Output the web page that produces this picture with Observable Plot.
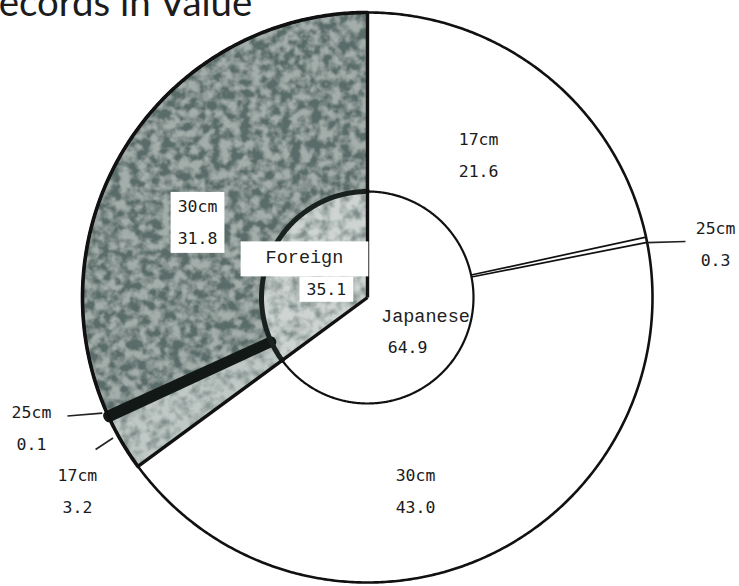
<!DOCTYPE html>
<html><head><meta charset="utf-8">
<script src="https://cdn.jsdelivr.net/npm/d3@7"></script>
<script src="https://cdn.jsdelivr.net/npm/@observablehq/plot@0.6"></script>
<style>
html,body{margin:0;padding:0;background:#fff;}
#wrap{position:relative;width:739px;height:586px;overflow:hidden;background:#fff;}
#wrap > svg{display:block;}
#titleSvg{position:absolute;left:0;top:0;overflow:hidden;}
</style></head>
<body>
<svg width="0" height="0" style="position:absolute;left:0;top:0" aria-hidden="true">
<defs>
<filter id="fDark" x="0" y="0" width="1" height="1">
 <feTurbulence type="fractalNoise" baseFrequency="0.1" numOctaves="3" seed="11" result="n"/>
 <feColorMatrix in="n" type="matrix" values="0 0 0 0 0.1  0 0 0 0 0.15  0 0 0 0 0.14  3.0 0 0 0 -0.95" result="s"/>
 <feComposite in="s" in2="SourceGraphic" operator="over"/>
</filter>
<filter id="fLight" x="0" y="0" width="1" height="1">
 <feTurbulence type="fractalNoise" baseFrequency="0.1" numOctaves="3" seed="5" result="n"/>
 <feColorMatrix in="n" type="matrix" values="0 0 0 0 0.2  0 0 0 0 0.26  0 0 0 0 0.25  2.3 0 0 0 -0.85" result="s"/>
 <feComposite in="s" in2="SourceGraphic" operator="over"/>
</filter>
<pattern id="pDark" patternUnits="userSpaceOnUse" x="0" y="0" width="739" height="586">
 <rect width="739" height="586" fill="#a3adaa" filter="url(#fDark)"/>
</pattern>
<pattern id="pLight" patternUnits="userSpaceOnUse" x="0" y="0" width="739" height="586">
 <rect width="739" height="586" fill="#c0c9c6" filter="url(#fLight)"/>
</pattern>
<pattern id="pInner" patternUnits="userSpaceOnUse" x="0" y="0" width="739" height="586">
 <rect width="739" height="586" fill="#cdd4d1" filter="url(#fLight)"/>
</pattern>
</defs>
</svg>
<div id="wrap"></div>
<script>
// ---------- data ----------
const groups = ["Japanese", "Foreign"];
const groupShares = [64.9, 35.1];
const sizes = ["17cm", "25cm", "30cm"];
const japaneseShares = [21.6, 0.3, 43.0];
const foreignShares = [3.2, 0.1, 31.8];
const titleText = "Records in Value";

// ---------- layout / styles ----------
const W = 739, H = 586;
const CX = 367, CY = 297, RPX = 285;           // pie centre and outer radius (px)
const R_IN = 106 / RPX;                        // inner circle radius (unit)
const xDomain = [(0 - CX) / RPX, (W - CX) / RPX];
const yDomain = [(CY - H) / RPX, CY / RPX];

const segStyle = {
  "Japanese-17cm": {fill: "white"},
  "Japanese-25cm": {fill: "white"},
  "Japanese-30cm": {fill: "white"},
  "Foreign-17cm": {fill: "url(#pLight)"},
  "Foreign-25cm": {fill: "#121816", stroke: "#121816", strokeWidth: 10},
  "Foreign-30cm": {fill: "url(#pDark)"}
};
const innerStyle = {Japanese: {fill: "white"}, Foreign: {fill: "url(#pInner)"}};

// label placement: offset from slice mid-angle (deg) and radius (unit)
const outerLabelLayout = {
  "Japanese-17cm": {dA: -1.7, r: 0.645},
  "Japanese-25cm": {dA: 2.3, r: 1.238, leader: [0.6, 1.0, 1.7, 1.133]},
  "Japanese-30cm": {dA: 9.5, r: 0.684},
  "Foreign-17cm": {dA: -2.5, r: 1.215, leader: [1.7, 1.02, 1.4, 1.093]},
  "Foreign-25cm": {dA: 4.0, r: 1.26, leader: [1.1, 1.015, 3.1, 1.132]},
  "Foreign-30cm": {dA: -7.6, r: 0.659}
};
const innerLabelLayout = {
  "Japanese-name": {dA: -8.7, r: 0.214},
  "Japanese-value": {dA: 24.5, r: 0.225},
  "Foreign-name": {dA: 5.6, r: 0.262},
  "Foreign-value": {dA: -15.8, r: 0.147}
};
// white boxes behind some labels: [left, top, right, bottom] padding
const boxPad = {"30cm31.8": [7, 5, 7, 5], "Foreign": [25, 7, 25, 7], "35.1": [7, 3, 7, 3]};

// ---------- geometry from data ----------
const deg = p => p * 3.6;
const polar = (a, r) => ({x: r * Math.sin(a * Math.PI / 180), y: r * Math.cos(a * Math.PI / 180)});
function arcPts(a0, a1, r) {
  const n = Math.max(2, Math.ceil(Math.abs(a1 - a0) * 2));
  return d3.range(n + 1).map(i => polar(a0 + (a1 - a0) * i / n, r));
}
const seriesByGroup = {Japanese: japaneseShares, Foreign: foreignShares};
let cum = 0;
const outerSegs = [];
groups.forEach(g => seriesByGroup[g].forEach((v, i) => {
  outerSegs.push({key: g + "-" + sizes[i], group: g, size: sizes[i], value: v, a0: deg(cum), a1: deg(cum + v)});
  cum += v;
}));
cum = 0;
const innerSegs = groups.map((g, i) => {
  const s = {group: g, value: groupShares[i], a0: deg(cum), a1: deg(cum + groupShares[i])};
  cum += groupShares[i];
  return s;
});

const sectorMarks = [];
innerSegs.forEach(s => {
  const pts = [polar(0, 0), ...arcPts(s.a0, s.a1, R_IN)];
  sectorMarks.push(Plot.line(pts, {x: "x", y: "y", curve: "linear-closed", fill: innerStyle[s.group].fill, stroke: "none"}));
});
[...outerSegs].sort((a, b) => (segStyle[a.key].stroke ? 1 : 0) - (segStyle[b.key].stroke ? 1 : 0)).forEach(s => {
  const st = segStyle[s.key];
  const pts = [...arcPts(s.a0, s.a1, 1), ...arcPts(s.a1, s.a0, R_IN)];
  sectorMarks.push(Plot.line(pts, {x: "x", y: "y", curve: "linear-closed", fill: st.fill,
    stroke: st.stroke || "none", strokeWidth: st.strokeWidth || 0, strokeLinejoin: "round"}));
});

// boundary lines
const mainBoundaries = [innerSegs[0].a0, innerSegs[0].a1].map(a => ({a, r0: 0, r1: 1}));
const j25 = outerSegs.find(s => s.key === "Japanese-25cm");
const thinBoundaries = [j25.a0, j25.a1].map(a => ({a, r0: R_IN, r1: 1}));
const linkOpts = (w) => ({
  x1: d => polar(d.a, d.r0).x, y1: d => polar(d.a, d.r0).y,
  x2: d => polar(d.a, d.r1).x, y2: d => polar(d.a, d.r1).y,
  stroke: "#111", strokeWidth: w
});

// leaders
const leaders = outerSegs.filter(s => outerLabelLayout[s.key].leader).map(s => {
  const m = (s.a0 + s.a1) / 2, L = outerLabelLayout[s.key].leader;
  const p1 = polar(m + L[0], L[1]), p2 = polar(m + L[2], L[3]);
  return {x1: p1.x, y1: p1.y, x2: p2.x, y2: p2.y};
});

// labels
const outerLabels = outerSegs.map(s => {
  const L = outerLabelLayout[s.key], p = polar((s.a0 + s.a1) / 2 + L.dA, L.r);
  return {x: p.x, y: p.y, text: s.size + "\n" + s.value.toFixed(1)};
});
const nameLabels = [], valueLabels = [];
innerSegs.forEach(s => {
  const m = (s.a0 + s.a1) / 2;
  const ln = innerLabelLayout[s.group + "-name"], lv = innerLabelLayout[s.group + "-value"];
  const pn = polar(m + ln.dA, ln.r), pv = polar(m + lv.dA, lv.r);
  nameLabels.push({x: pn.x, y: pn.y, text: s.group});
  valueLabels.push({x: pv.x, y: pv.y, text: s.value.toFixed(1)});
});

const foreign = innerSegs[1];
const plot = Plot.plot({
  width: W, height: H, margin: 0,
  x: {domain: xDomain, axis: null},
  y: {domain: yDomain, axis: null},
  style: {background: "white"},
  marks: [
    ...sectorMarks,
    Plot.line(arcPts(0, 360, 1), {x: "x", y: "y", curve: "linear-closed", stroke: "#111", strokeWidth: 2.6, fill: "none"}),
    Plot.line(arcPts(foreign.a0, foreign.a1, 1), {x: "x", y: "y", stroke: "#111", strokeWidth: 3.6}),
    Plot.line(arcPts(innerSegs[0].a0, innerSegs[0].a1, R_IN), {x: "x", y: "y", stroke: "#111", strokeWidth: 2.2}),
    Plot.line(arcPts(foreign.a0, foreign.a1, R_IN), {x: "x", y: "y", stroke: "#1a2220", strokeWidth: 5}),
    Plot.link(mainBoundaries, linkOpts(3.4)),
    Plot.link(thinBoundaries, linkOpts(1.7)),
    Plot.link(leaders, {x1: "x1", y1: "y1", x2: "x2", y2: "y2", stroke: "#222", strokeWidth: 1.6}),
    Plot.text(outerLabels, {x: "x", y: "y", text: "text", fontFamily: "DejaVu Sans Mono", fontSize: 16.5,
      lineHeight: 1.94, fill: "#1a1a1a"}),
    Plot.text(nameLabels, {x: "x", y: "y", text: "text", fontFamily: "Liberation Mono", fontSize: 18.5, fill: "#222"}),
    Plot.text(valueLabels, {x: "x", y: "y", text: "text", fontFamily: "DejaVu Sans Mono", fontSize: 16.5, fill: "#1a1a1a"})
  ]
});
const wrap = document.getElementById("wrap");
wrap.append(plot);

// white boxes behind selected labels
const svgRect = plot.getBoundingClientRect();
plot.querySelectorAll("text").forEach(t => {
  const pad = boxPad[t.textContent];
  if (!pad) return;
  const b = t.getBoundingClientRect();
  const r = document.createElementNS("http://www.w3.org/2000/svg", "rect");
  r.setAttribute("x", b.left - svgRect.left - pad[0]);
  r.setAttribute("y", b.top - svgRect.top - pad[1]);
  r.setAttribute("width", b.width + pad[0] + pad[2]);
  r.setAttribute("height", b.height + pad[1] + pad[3]);
  r.setAttribute("fill", "white");
  const g = t.parentNode;
  g.parentNode.insertBefore(r, g);
});

// title (cropped at the top edge as in the reference)
const ctx = document.createElement("canvas").getContext("2d");
ctx.font = "30px Lato";
const visW = ctx.measureText(titleText.slice(1)).width;
const F = 30 * 255 / visW;
ctx.font = F + "px Lato";
const rW = ctx.measureText(titleText.slice(0, 1)).width;
const ts = d3.select(wrap).append("svg").attr("id", "titleSvg").attr("width", 320).attr("height", 40);
ts.append("text").attr("x", -rW).attr("y", 16).attr("font-family", "Lato").attr("font-size", F)
  .attr("fill", "#1c1c1c").text(titleText);
</script>
</body></html>
